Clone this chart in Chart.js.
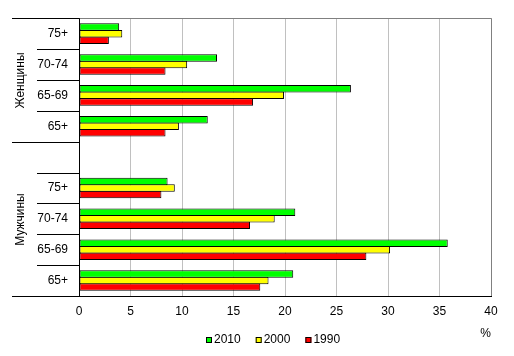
<!DOCTYPE html>
<html><head><meta charset="utf-8">
<script src="https://cdn.jsdelivr.net/npm/chart.js@4"></script>
<style>html,body{margin:0;padding:0;background:#fff}canvas{display:block}</style>
</head><body>
<canvas id="c" width="514" height="356"></canvas>
<script>
const categories = ['75+','70-74','65-69','65+','','75+','70-74','65-69','65+'];
const groupLabels = ['Женщины','Мужчины'];
const groupRanges = [[0,3],[4,8]];
const seriesLabels = ['2010','2000','1990'];
const values2010 = [3.9, 13.4, 26.4, 12.5, null, 8.6, 21.0, 35.8, 20.8];
const values2000 = [4.2, 10.5, 19.9, 9.7, null, 9.3, 19.0, 30.2, 18.4];
const values1990 = [2.9, 8.4, 16.9, 8.4, null, 8.0, 16.6, 27.9, 17.6];
const seriesColors = ['#00FF00','#FFFF00','#FF0000'];
const xMin = 0, xMax = 40, xStep = 5;
const unitLabel = '%';
const FONT = '"Liberation Sans", Arial, sans-serif';

const decor = {
  id: 'decor',
  afterDraw(chart) {
    const ctx = chart.ctx, ca = chart.chartArea, y = chart.scales.y;
    ctx.save();
    ctx.lineWidth = 1;
    ctx.strokeStyle = '#808080';
    ctx.beginPath();
    ctx.moveTo(ca.left, Math.round(ca.top) + 0.5);
    ctx.lineTo(Math.round(ca.right) + 0.5, Math.round(ca.top) + 0.5);
    ctx.lineTo(Math.round(ca.right) + 0.5, Math.round(ca.bottom));
    ctx.stroke();
    ctx.strokeStyle = '#000';
    const n = categories.length;
    const bounds = [];
    for (let i = 0; i <= n; i++) {
      let py;
      if (i === 0) py = ca.top;
      else if (i === n) py = ca.bottom;
      else py = (y.getPixelForValue(i - 1) + y.getPixelForValue(i)) / 2;
      bounds.push(Math.round(py) + 0.5);
    }
    const edges = new Set();
    groupRanges.forEach(r => { edges.add(r[0]); edges.add(r[1] + 1); });
    for (let i = 0; i <= n; i++) {
      const x0 = edges.has(i) ? 12 : 37;
      ctx.beginPath();
      ctx.moveTo(x0, bounds[i]);
      ctx.lineTo(Math.round(ca.left), bounds[i]);
      ctx.stroke();
    }
    ctx.beginPath();
    ctx.moveTo(Math.round(ca.left) + 0.5, ca.top);
    ctx.lineTo(Math.round(ca.left) + 0.5, Math.round(ca.bottom) + 1);
    ctx.moveTo(12, Math.round(ca.bottom) + 0.5);
    ctx.lineTo(Math.round(ca.right) + 1, Math.round(ca.bottom) + 0.5);
    ctx.stroke();
    ctx.fillStyle = '#000';
    ctx.font = '12px ' + FONT;
    ctx.textAlign = 'center';
    ctx.textBaseline = 'middle';
    groupRanges.forEach((r, gi) => {
      const mid = (bounds[r[0]] + bounds[r[1] + 1]) / 2;
      ctx.save();
      ctx.translate(21, mid);
      ctx.rotate(-Math.PI / 2);
      ctx.fillText(groupLabels[gi], 0, 0);
      ctx.restore();
    });
    const box = 6, gap = 2, itemGap = 15;
    ctx.textAlign = 'left';
    const widths = chart.data.datasets.map(ds => box + gap + ctx.measureText(ds.label).width);
    const total = widths.reduce((a, b) => a + b, 0) + itemGap * (widths.length - 1);
    let lx = Math.round(273 - total / 2);
    const ly = 340;
    chart.data.datasets.forEach((ds, i) => {
      ctx.fillStyle = ds.backgroundColor;
      ctx.fillRect(lx, ly - 3, box, box);
      ctx.strokeStyle = '#000';
      ctx.strokeRect(lx + 0.5, ly - 3 + 0.5, box - 1, box - 1);
      ctx.fillStyle = '#000';
      ctx.fillText(ds.label, lx + box + gap, ly);
      lx += widths[i] + itemGap;
    });
    ctx.restore();
  }
};

new Chart(document.getElementById('c'), {
  type: 'bar',
  data: {
    labels: categories,
    datasets: [values2010, values2000, values1990].map((v, i) => ({
      label: seriesLabels[i],
      data: v,
      backgroundColor: seriesColors[i],
      borderColor: '#000',
      borderWidth: 1,
      borderSkipped: false,
      categoryPercentage: 0.635,
      barPercentage: 1.15
    }))
  },
  options: {
    indexAxis: 'y',
    responsive: false,
    animation: false,
    events: [],
    layout: { padding: { top: 15, right: 23, left: 0, bottom: 0 } },
    plugins: { legend: { display: false }, tooltip: { enabled: false } },
    scales: {
      x: {
        min: xMin, max: xMax,
        ticks: { stepSize: xStep, color: '#000', font: { size: 12, family: FONT }, padding: 8 },
        grid: { color: '#C0C0C0', drawTicks: false },
        border: { display: true, color: '#000' },
        title: { display: true, text: unitLabel, align: 'end', color: '#000', font: { size: 12, family: FONT }, padding: { top: 4, bottom: 15 } },
        afterFit: s => { s.height = 60; }
      },
      y: {
        type: 'category',
        offset: true,
        grid: { display: false, drawTicks: false },
        border: { display: true, color: '#000' },
        ticks: { color: '#000', font: { size: 12, family: FONT }, padding: 11, autoSkip: false },
        afterFit: s => { s.width = 79; }
      }
    }
  },
  plugins: [decor]
});
</script>
</body></html>
